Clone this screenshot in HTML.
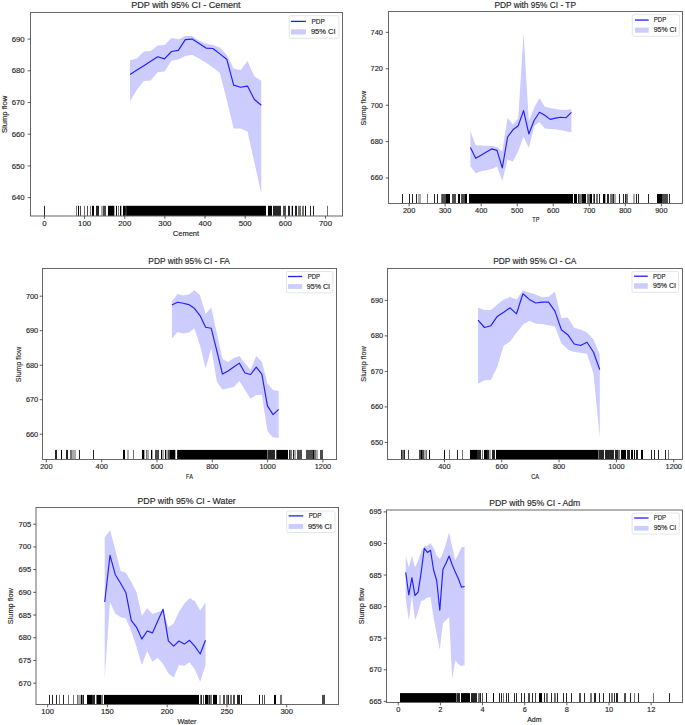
<!DOCTYPE html><html><head><meta charset="utf-8"><style>html,body{margin:0;padding:0;background:#fff;}svg{display:block;}text{font-family:"Liberation Sans",sans-serif;fill:#262626;stroke:#262626;stroke-width:0.15px;}</style></head><body>
<svg width="685" height="725" viewBox="0 0 685 725">
<rect width="685" height="725" fill="#fff"/>
<polygon points="130,60.3 136.91,58.6 143.82,51.5 150.73,50.9 157.64,45.5 164.55,45.1 171.46,38 178.37,39.2 185.28,36 192.19,36.1 199.11,40.7 206.02,43.4 212.93,44.9 219.84,47.5 226.75,55.1 233.66,68.6 240.57,70.2 247.48,61 254.39,76.6 261.3,80.8 261.3,193.3 254.39,162.4 247.48,131.5 240.57,128.6 233.66,128.6 226.75,100 219.84,73 212.93,67.4 206.02,62.7 199.11,58.6 192.19,54.8 185.28,55.9 178.37,59.6 171.46,60.7 164.55,71.4 157.64,72.3 150.73,80.6 143.82,81 136.91,89.8 130,101.2" fill="#ccccff"/>
<polyline points="130,74.6 136.91,70.1 143.82,65.7 150.73,61.3 157.64,56.8 164.55,58.9 171.46,51.5 178.37,50.4 185.28,39.6 192.19,39.1 199.11,43.4 206.02,48.1 212.93,48.5 219.84,53.9 226.75,59.2 233.66,85.1 240.57,87.3 247.48,86.1 254.39,99.5 261.3,105.2" fill="none" stroke="#1f1fff" stroke-width="1.15" stroke-linejoin="round"/>
<rect x="44" y="205.8" width="1" height="10.2" fill="#000" fill-opacity="0.85"/>
<rect x="76" y="205.8" width="1" height="10.2" fill="#000" fill-opacity="0.55"/>
<rect x="78" y="205.8" width="1" height="10.2" fill="#000" fill-opacity="1.0"/>
<rect x="80" y="205.8" width="1" height="10.2" fill="#000" fill-opacity="0.7"/>
<rect x="84" y="205.8" width="1" height="10.2" fill="#000" fill-opacity="0.55"/>
<rect x="87" y="205.8" width="1" height="10.2" fill="#000" fill-opacity="0.7"/>
<rect x="90" y="205.8" width="1" height="10.2" fill="#000" fill-opacity="0.55"/>
<rect x="92" y="205.8" width="2" height="10.2" fill="#000" fill-opacity="1.0"/>
<rect x="96" y="205.8" width="3" height="10.2" fill="#000" fill-opacity="0.85"/>
<rect x="101" y="205.8" width="2" height="10.2" fill="#000" fill-opacity="0.33"/>
<rect x="103" y="205.8" width="3" height="10.2" fill="#000" fill-opacity="0.7"/>
<rect x="108" y="205.8" width="6" height="10.2" fill="#000" fill-opacity="1.0"/>
<rect x="114" y="205.8" width="1" height="10.2" fill="#000" fill-opacity="0.33"/>
<rect x="116" y="205.8" width="1" height="10.2" fill="#000" fill-opacity="1.0"/>
<rect x="118" y="205.8" width="1" height="10.2" fill="#000" fill-opacity="0.55"/>
<rect x="120" y="205.8" width="1" height="10.2" fill="#000" fill-opacity="1.0"/>
<rect x="121" y="205.8" width="1" height="10.2" fill="#000" fill-opacity="0.33"/>
<rect x="123" y="205.8" width="2" height="10.2" fill="#000" fill-opacity="1.0"/>
<rect x="125" y="205.8" width="2" height="10.2" fill="#000" fill-opacity="0.85"/>
<rect x="127" y="205.8" width="139" height="10.2" fill="#000" fill-opacity="1.0"/>
<rect x="268" y="205.8" width="4" height="10.2" fill="#000" fill-opacity="1.0"/>
<rect x="273" y="205.8" width="8" height="10.2" fill="#000" fill-opacity="0.85"/>
<rect x="283" y="205.8" width="3" height="10.2" fill="#000" fill-opacity="0.7"/>
<rect x="288" y="205.8" width="2" height="10.2" fill="#000" fill-opacity="0.85"/>
<rect x="291" y="205.8" width="1" height="10.2" fill="#000" fill-opacity="0.33"/>
<rect x="292" y="205.8" width="1" height="10.2" fill="#000" fill-opacity="1.0"/>
<rect x="295" y="205.8" width="2" height="10.2" fill="#000" fill-opacity="0.85"/>
<rect x="298" y="205.8" width="3" height="10.2" fill="#000" fill-opacity="0.55"/>
<rect x="302" y="205.8" width="2" height="10.2" fill="#000" fill-opacity="0.55"/>
<rect x="305" y="205.8" width="1" height="10.2" fill="#000" fill-opacity="1.0"/>
<rect x="310" y="205.8" width="1" height="10.2" fill="#000" fill-opacity="0.85"/>
<rect x="313" y="205.8" width="1" height="10.2" fill="#000" fill-opacity="0.85"/>
<rect x="327" y="205.8" width="1" height="10.2" fill="#000" fill-opacity="0.55"/>
<rect x="30.5" y="12.5" width="312" height="203.5" fill="none" stroke="#666" stroke-width="1.0"/>
<line x1="27.7" y1="197.6" x2="30.5" y2="197.6" stroke="#333" stroke-width="0.8"/>
<text transform="translate(24.7,200.21) scale(1.05,1)" font-size="7.46" text-anchor="end">640</text>
<line x1="27.7" y1="165.9" x2="30.5" y2="165.9" stroke="#333" stroke-width="0.8"/>
<text transform="translate(24.7,168.51) scale(1.05,1)" font-size="7.46" text-anchor="end">650</text>
<line x1="27.7" y1="134.2" x2="30.5" y2="134.2" stroke="#333" stroke-width="0.8"/>
<text transform="translate(24.7,136.81) scale(1.05,1)" font-size="7.46" text-anchor="end">660</text>
<line x1="27.7" y1="102.5" x2="30.5" y2="102.5" stroke="#333" stroke-width="0.8"/>
<text transform="translate(24.7,105.11) scale(1.05,1)" font-size="7.46" text-anchor="end">670</text>
<line x1="27.7" y1="70.8" x2="30.5" y2="70.8" stroke="#333" stroke-width="0.8"/>
<text transform="translate(24.7,73.41) scale(1.05,1)" font-size="7.46" text-anchor="end">680</text>
<line x1="27.7" y1="39.1" x2="30.5" y2="39.1" stroke="#333" stroke-width="0.8"/>
<text transform="translate(24.7,41.71) scale(1.05,1)" font-size="7.46" text-anchor="end">690</text>
<line x1="44.4" y1="216" x2="44.4" y2="218.8" stroke="#333" stroke-width="0.8"/>
<text transform="translate(44.4,226) scale(1.05,1)" font-size="7.46" text-anchor="middle">0</text>
<line x1="84.56" y1="216" x2="84.56" y2="218.8" stroke="#333" stroke-width="0.8"/>
<text transform="translate(84.56,226) scale(1.05,1)" font-size="7.46" text-anchor="middle">100</text>
<line x1="124.72" y1="216" x2="124.72" y2="218.8" stroke="#333" stroke-width="0.8"/>
<text transform="translate(124.72,226) scale(1.05,1)" font-size="7.46" text-anchor="middle">200</text>
<line x1="164.88" y1="216" x2="164.88" y2="218.8" stroke="#333" stroke-width="0.8"/>
<text transform="translate(164.88,226) scale(1.05,1)" font-size="7.46" text-anchor="middle">300</text>
<line x1="205.04" y1="216" x2="205.04" y2="218.8" stroke="#333" stroke-width="0.8"/>
<text transform="translate(205.04,226) scale(1.05,1)" font-size="7.46" text-anchor="middle">400</text>
<line x1="245.2" y1="216" x2="245.2" y2="218.8" stroke="#333" stroke-width="0.8"/>
<text transform="translate(245.2,226) scale(1.05,1)" font-size="7.46" text-anchor="middle">500</text>
<line x1="285.36" y1="216" x2="285.36" y2="218.8" stroke="#333" stroke-width="0.8"/>
<text transform="translate(285.36,226) scale(1.05,1)" font-size="7.46" text-anchor="middle">600</text>
<line x1="325.52" y1="216" x2="325.52" y2="218.8" stroke="#333" stroke-width="0.8"/>
<text transform="translate(325.52,226) scale(1.05,1)" font-size="7.46" text-anchor="middle">700</text>
<text x="185.9" y="7.8" font-size="8.9" text-anchor="middle" textLength="109.4" lengthAdjust="spacingAndGlyphs">PDP with 95% CI - Cement</text>
<text x="186" y="235.8" font-size="7.3" text-anchor="middle" textLength="26.3" lengthAdjust="spacingAndGlyphs">Cement</text>
<text transform="translate(6.9,114.4) rotate(-90)" font-size="7.3" text-anchor="middle" textLength="37.3" lengthAdjust="spacingAndGlyphs">Slump flow</text>
<rect x="289.2" y="15.7" width="49.6" height="22.6" rx="1.6" fill="#fff" fill-opacity="0.85" stroke="#dadada" stroke-width="0.7"/>
<line x1="290.9" y1="21.4" x2="305.9" y2="21.4" stroke="#1f1fff" stroke-width="1.3"/>
<rect x="290.9" y="29.3" width="15" height="5.2" fill="#ccccff"/>
<text x="311.6" y="24.01" font-size="7.3" text-anchor="start" textLength="13.2" lengthAdjust="spacingAndGlyphs">PDP</text>
<text x="310.9" y="34.01" font-size="7.3" text-anchor="start" textLength="24.6" lengthAdjust="spacingAndGlyphs">95% CI</text>
<polygon points="470.4,131.2 475.72,145.3 481.03,145.6 486.35,145.8 491.66,146 496.98,147.1 502.29,151.3 507.61,117.7 512.93,124.6 518.24,118.2 523.56,33.6 528.87,121.5 534.19,107.5 539.51,97.9 544.82,106.8 550.14,108.1 555.45,109.1 560.77,109.8 566.08,110 571.4,109.1 571.4,132.3 566.08,131.3 560.77,130.2 555.45,129.3 550.14,129 544.82,128.5 539.51,121.9 534.19,126 528.87,147.9 523.56,136.5 518.24,151.3 512.93,161.5 507.61,159.6 502.29,181.1 496.98,166.5 491.66,169 486.35,170.3 481.03,171.2 475.72,173.2 470.4,166.2" fill="#ccccff"/>
<polyline points="470.4,147.5 475.72,158.3 481.03,155.2 486.35,151.9 491.66,148.9 496.98,150.4 502.29,167.9 507.61,137 512.93,129.8 518.24,125.7 523.56,110.6 528.87,134 534.19,120.2 539.51,112.3 544.82,115.3 550.14,119.4 555.45,118.1 560.77,117.3 566.08,117.7 571.4,112.3" fill="none" stroke="#1f1fff" stroke-width="1.15" stroke-linejoin="round"/>
<rect x="402" y="194" width="1" height="9.5" fill="#000" fill-opacity="0.85"/>
<rect x="409" y="194" width="1" height="9.5" fill="#000" fill-opacity="0.85"/>
<rect x="412" y="194" width="1" height="9.5" fill="#000" fill-opacity="0.85"/>
<rect x="416" y="194" width="1" height="9.5" fill="#000" fill-opacity="0.85"/>
<rect x="418" y="194" width="3" height="9.5" fill="#000" fill-opacity="0.33"/>
<rect x="427" y="194" width="1" height="9.5" fill="#000" fill-opacity="0.55"/>
<rect x="434" y="194" width="1" height="9.5" fill="#000" fill-opacity="0.85"/>
<rect x="437" y="194" width="1" height="9.5" fill="#000" fill-opacity="0.85"/>
<rect x="441" y="194" width="1" height="9.5" fill="#000" fill-opacity="0.55"/>
<rect x="442" y="194" width="4" height="9.5" fill="#000" fill-opacity="0.7"/>
<rect x="446" y="194" width="4" height="9.5" fill="#000" fill-opacity="1.0"/>
<rect x="452" y="194" width="4" height="9.5" fill="#000" fill-opacity="0.7"/>
<rect x="458" y="194" width="2" height="9.5" fill="#000" fill-opacity="1.0"/>
<rect x="461" y="194" width="4" height="9.5" fill="#000" fill-opacity="0.7"/>
<rect x="465" y="194" width="2" height="9.5" fill="#000" fill-opacity="1.0"/>
<rect x="469" y="194" width="104" height="9.5" fill="#000" fill-opacity="1.0"/>
<rect x="574" y="194" width="3" height="9.5" fill="#000" fill-opacity="1.0"/>
<rect x="578" y="194" width="1" height="9.5" fill="#000" fill-opacity="0.85"/>
<rect x="579" y="194" width="3" height="9.5" fill="#000" fill-opacity="0.55"/>
<rect x="582" y="194" width="4" height="9.5" fill="#000" fill-opacity="1.0"/>
<rect x="587" y="194" width="3" height="9.5" fill="#000" fill-opacity="0.55"/>
<rect x="590" y="194" width="2" height="9.5" fill="#000" fill-opacity="1.0"/>
<rect x="593" y="194" width="1" height="9.5" fill="#000" fill-opacity="0.55"/>
<rect x="594" y="194" width="1" height="9.5" fill="#000" fill-opacity="0.85"/>
<rect x="596" y="194" width="2" height="9.5" fill="#000" fill-opacity="0.55"/>
<rect x="599" y="194" width="1" height="9.5" fill="#000" fill-opacity="0.85"/>
<rect x="603" y="194" width="2" height="9.5" fill="#000" fill-opacity="1.0"/>
<rect x="605" y="194" width="1" height="9.5" fill="#000" fill-opacity="0.33"/>
<rect x="607" y="194" width="2" height="9.5" fill="#000" fill-opacity="0.85"/>
<rect x="610" y="194" width="3" height="9.5" fill="#000" fill-opacity="0.55"/>
<rect x="613" y="194" width="1" height="9.5" fill="#000" fill-opacity="0.85"/>
<rect x="614" y="194" width="2" height="9.5" fill="#000" fill-opacity="0.33"/>
<rect x="619" y="194" width="1" height="9.5" fill="#000" fill-opacity="0.85"/>
<rect x="623" y="194" width="1" height="9.5" fill="#000" fill-opacity="0.85"/>
<rect x="625" y="194" width="1" height="9.5" fill="#000" fill-opacity="0.85"/>
<rect x="626" y="194" width="2" height="9.5" fill="#000" fill-opacity="0.55"/>
<rect x="633" y="194" width="2" height="9.5" fill="#000" fill-opacity="0.33"/>
<rect x="636" y="194" width="1" height="9.5" fill="#000" fill-opacity="0.85"/>
<rect x="638" y="194" width="1" height="9.5" fill="#000" fill-opacity="0.85"/>
<rect x="648" y="194" width="1" height="9.5" fill="#000" fill-opacity="0.85"/>
<rect x="657" y="194" width="5" height="9.5" fill="#000" fill-opacity="1.0"/>
<rect x="662" y="194" width="6" height="9.5" fill="#000" fill-opacity="0.7"/>
<rect x="669" y="194" width="1" height="9.5" fill="#000" fill-opacity="0.85"/>
<rect x="388.5" y="11.5" width="294" height="192" fill="none" stroke="#666" stroke-width="1.0"/>
<line x1="385.7" y1="178.03" x2="388.5" y2="178.03" stroke="#333" stroke-width="0.8"/>
<text transform="translate(382.8,180.48) scale(1.05,1)" font-size="7.01" text-anchor="end">660</text>
<line x1="385.7" y1="141.61" x2="388.5" y2="141.61" stroke="#333" stroke-width="0.8"/>
<text transform="translate(382.8,144.06) scale(1.05,1)" font-size="7.01" text-anchor="end">680</text>
<line x1="385.7" y1="105.19" x2="388.5" y2="105.19" stroke="#333" stroke-width="0.8"/>
<text transform="translate(382.8,107.64) scale(1.05,1)" font-size="7.01" text-anchor="end">700</text>
<line x1="385.7" y1="68.77" x2="388.5" y2="68.77" stroke="#333" stroke-width="0.8"/>
<text transform="translate(382.8,71.22) scale(1.05,1)" font-size="7.01" text-anchor="end">720</text>
<line x1="385.7" y1="32.35" x2="388.5" y2="32.35" stroke="#333" stroke-width="0.8"/>
<text transform="translate(382.8,34.8) scale(1.05,1)" font-size="7.01" text-anchor="end">740</text>
<line x1="409.1" y1="203.5" x2="409.1" y2="206.3" stroke="#333" stroke-width="0.8"/>
<text transform="translate(409.1,213.3) scale(1.05,1)" font-size="7.01" text-anchor="middle">200</text>
<line x1="445.14" y1="203.5" x2="445.14" y2="206.3" stroke="#333" stroke-width="0.8"/>
<text transform="translate(445.14,213.3) scale(1.05,1)" font-size="7.01" text-anchor="middle">300</text>
<line x1="481.17" y1="203.5" x2="481.17" y2="206.3" stroke="#333" stroke-width="0.8"/>
<text transform="translate(481.17,213.3) scale(1.05,1)" font-size="7.01" text-anchor="middle">400</text>
<line x1="517.21" y1="203.5" x2="517.21" y2="206.3" stroke="#333" stroke-width="0.8"/>
<text transform="translate(517.21,213.3) scale(1.05,1)" font-size="7.01" text-anchor="middle">500</text>
<line x1="553.24" y1="203.5" x2="553.24" y2="206.3" stroke="#333" stroke-width="0.8"/>
<text transform="translate(553.24,213.3) scale(1.05,1)" font-size="7.01" text-anchor="middle">600</text>
<line x1="589.28" y1="203.5" x2="589.28" y2="206.3" stroke="#333" stroke-width="0.8"/>
<text transform="translate(589.28,213.3) scale(1.05,1)" font-size="7.01" text-anchor="middle">700</text>
<line x1="625.32" y1="203.5" x2="625.32" y2="206.3" stroke="#333" stroke-width="0.8"/>
<text transform="translate(625.32,213.3) scale(1.05,1)" font-size="7.01" text-anchor="middle">800</text>
<line x1="661.35" y1="203.5" x2="661.35" y2="206.3" stroke="#333" stroke-width="0.8"/>
<text transform="translate(661.35,213.3) scale(1.05,1)" font-size="7.01" text-anchor="middle">900</text>
<text x="535.2" y="7.9" font-size="8.37" text-anchor="middle" textLength="81.6" lengthAdjust="spacingAndGlyphs">PDP with 95% CI - TP</text>
<text x="535.8" y="222" font-size="6.86" text-anchor="middle" textLength="7.1" lengthAdjust="spacingAndGlyphs">TP</text>
<text transform="translate(366.4,108.2) rotate(-90)" font-size="6.86" text-anchor="middle" textLength="34.7" lengthAdjust="spacingAndGlyphs">Slump flow</text>
<rect x="632.3" y="14.6" width="47.3" height="21.7" rx="1.6" fill="#fff" fill-opacity="0.85" stroke="#dadada" stroke-width="0.7"/>
<line x1="634.9" y1="20.05" x2="648.7" y2="20.05" stroke="#1f1fff" stroke-width="1.3"/>
<rect x="634.9" y="27.6" width="13.8" height="5.1" fill="#ccccff"/>
<text x="653.7" y="22.36" font-size="6.86" text-anchor="start" textLength="12.5" lengthAdjust="spacingAndGlyphs">PDP</text>
<text x="653.7" y="32.36" font-size="6.86" text-anchor="start" textLength="22.8" lengthAdjust="spacingAndGlyphs">95% CI</text>
<polygon points="171.9,301.4 177.52,294.1 183.14,295.4 188.76,294.5 194.38,290.3 200.01,295.2 205.63,313.8 211.25,307.6 216.87,333.5 222.49,359 228.11,362 233.73,358.1 239.35,356 244.97,363.2 250.59,369.7 256.22,355.9 261.84,361.7 267.46,383.5 273.08,390 278.7,391 278.7,437.8 273.08,437.4 267.46,431.3 261.84,394.8 256.22,395.1 250.59,398.7 244.97,390 239.35,381 233.73,386.9 228.11,388.2 222.49,389.5 216.87,381.8 211.25,348.3 205.63,368.4 200.01,345.5 194.38,328.3 188.76,332.4 183.14,333.5 177.52,332.1 171.9,338.6" fill="#ccccff"/>
<polyline points="171.9,305.1 177.52,302.3 183.14,303.2 188.76,304.6 194.38,308.3 200.01,315.6 205.63,327.2 211.25,328.3 216.87,351 222.49,374.1 228.11,371 233.73,367 239.35,363.1 244.97,373 250.59,374.5 256.22,367.2 261.84,374.1 267.46,405.9 273.08,414.6 278.7,409.3" fill="none" stroke="#1f1fff" stroke-width="1.15" stroke-linejoin="round"/>
<rect x="55" y="449.9" width="2" height="9.6" fill="#000" fill-opacity="0.85"/>
<rect x="61" y="449.9" width="1" height="9.6" fill="#000" fill-opacity="1.0"/>
<rect x="66" y="449.9" width="2" height="9.6" fill="#000" fill-opacity="0.85"/>
<rect x="70" y="449.9" width="2" height="9.6" fill="#000" fill-opacity="0.55"/>
<rect x="72" y="449.9" width="4" height="9.6" fill="#000" fill-opacity="0.33"/>
<rect x="79" y="449.9" width="1" height="9.6" fill="#000" fill-opacity="0.85"/>
<rect x="93" y="449.9" width="1" height="9.6" fill="#000" fill-opacity="0.85"/>
<rect x="123" y="449.9" width="2" height="9.6" fill="#000" fill-opacity="1.0"/>
<rect x="127" y="449.9" width="2" height="9.6" fill="#000" fill-opacity="0.33"/>
<rect x="133" y="449.9" width="1" height="9.6" fill="#000" fill-opacity="0.55"/>
<rect x="142" y="449.9" width="2" height="9.6" fill="#000" fill-opacity="1.0"/>
<rect x="144" y="449.9" width="1" height="9.6" fill="#000" fill-opacity="0.33"/>
<rect x="146" y="449.9" width="1" height="9.6" fill="#000" fill-opacity="0.55"/>
<rect x="147" y="449.9" width="2" height="9.6" fill="#000" fill-opacity="0.33"/>
<rect x="151" y="449.9" width="1" height="9.6" fill="#000" fill-opacity="1.0"/>
<rect x="152" y="449.9" width="1" height="9.6" fill="#000" fill-opacity="0.33"/>
<rect x="155" y="449.9" width="4" height="9.6" fill="#000" fill-opacity="0.7"/>
<rect x="161" y="449.9" width="1" height="9.6" fill="#000" fill-opacity="1.0"/>
<rect x="162" y="449.9" width="2" height="9.6" fill="#000" fill-opacity="0.33"/>
<rect x="165" y="449.9" width="1" height="9.6" fill="#000" fill-opacity="1.0"/>
<rect x="166" y="449.9" width="2" height="9.6" fill="#000" fill-opacity="0.33"/>
<rect x="168" y="449.9" width="2" height="9.6" fill="#000" fill-opacity="0.7"/>
<rect x="170" y="449.9" width="5" height="9.6" fill="#000" fill-opacity="1.0"/>
<rect x="175" y="449.9" width="1" height="9.6" fill="#000" fill-opacity="0.33"/>
<rect x="177" y="449.9" width="1" height="9.6" fill="#000" fill-opacity="0.85"/>
<rect x="178" y="449.9" width="89" height="9.6" fill="#000" fill-opacity="1.0"/>
<rect x="267" y="449.9" width="1" height="9.6" fill="#000" fill-opacity="0.55"/>
<rect x="268" y="449.9" width="7" height="9.6" fill="#000" fill-opacity="0.85"/>
<rect x="276" y="449.9" width="1" height="9.6" fill="#000" fill-opacity="0.7"/>
<rect x="277" y="449.9" width="11" height="9.6" fill="#000" fill-opacity="1.0"/>
<rect x="289" y="449.9" width="1" height="9.6" fill="#000" fill-opacity="0.85"/>
<rect x="290" y="449.9" width="2" height="9.6" fill="#000" fill-opacity="0.55"/>
<rect x="293" y="449.9" width="1" height="9.6" fill="#000" fill-opacity="0.85"/>
<rect x="294" y="449.9" width="2" height="9.6" fill="#000" fill-opacity="0.33"/>
<rect x="297" y="449.9" width="5" height="9.6" fill="#000" fill-opacity="0.7"/>
<rect x="306" y="449.9" width="7" height="9.6" fill="#000" fill-opacity="0.7"/>
<rect x="313" y="449.9" width="1" height="9.6" fill="#000" fill-opacity="1.0"/>
<rect x="314" y="449.9" width="2" height="9.6" fill="#000" fill-opacity="0.55"/>
<rect x="316" y="449.9" width="2" height="9.6" fill="#000" fill-opacity="0.33"/>
<rect x="320" y="449.9" width="3" height="9.6" fill="#000" fill-opacity="0.7"/>
<rect x="42.5" y="268.5" width="294" height="191" fill="none" stroke="#666" stroke-width="1.0"/>
<line x1="39.7" y1="434.2" x2="42.5" y2="434.2" stroke="#333" stroke-width="0.8"/>
<text transform="translate(38.2,436.66) scale(1.05,1)" font-size="7.03" text-anchor="end">660</text>
<line x1="39.7" y1="399.7" x2="42.5" y2="399.7" stroke="#333" stroke-width="0.8"/>
<text transform="translate(38.2,402.16) scale(1.05,1)" font-size="7.03" text-anchor="end">670</text>
<line x1="39.7" y1="365.2" x2="42.5" y2="365.2" stroke="#333" stroke-width="0.8"/>
<text transform="translate(38.2,367.66) scale(1.05,1)" font-size="7.03" text-anchor="end">680</text>
<line x1="39.7" y1="330.7" x2="42.5" y2="330.7" stroke="#333" stroke-width="0.8"/>
<text transform="translate(38.2,333.16) scale(1.05,1)" font-size="7.03" text-anchor="end">690</text>
<line x1="39.7" y1="296.2" x2="42.5" y2="296.2" stroke="#333" stroke-width="0.8"/>
<text transform="translate(38.2,298.66) scale(1.05,1)" font-size="7.03" text-anchor="end">700</text>
<line x1="46.4" y1="459.5" x2="46.4" y2="462.3" stroke="#333" stroke-width="0.8"/>
<text transform="translate(46.4,469.3) scale(1.05,1)" font-size="7.03" text-anchor="middle">200</text>
<line x1="101.7" y1="459.5" x2="101.7" y2="462.3" stroke="#333" stroke-width="0.8"/>
<text transform="translate(101.7,469.3) scale(1.05,1)" font-size="7.03" text-anchor="middle">400</text>
<line x1="157" y1="459.5" x2="157" y2="462.3" stroke="#333" stroke-width="0.8"/>
<text transform="translate(157,469.3) scale(1.05,1)" font-size="7.03" text-anchor="middle">600</text>
<line x1="212.3" y1="459.5" x2="212.3" y2="462.3" stroke="#333" stroke-width="0.8"/>
<text transform="translate(212.3,469.3) scale(1.05,1)" font-size="7.03" text-anchor="middle">800</text>
<line x1="267.6" y1="459.5" x2="267.6" y2="462.3" stroke="#333" stroke-width="0.8"/>
<text transform="translate(267.6,469.3) scale(1.05,1)" font-size="7.03" text-anchor="middle">1000</text>
<line x1="322.9" y1="459.5" x2="322.9" y2="462.3" stroke="#333" stroke-width="0.8"/>
<text transform="translate(322.9,469.3) scale(1.05,1)" font-size="7.03" text-anchor="middle">1200</text>
<text x="189.1" y="264.4" font-size="8.38" text-anchor="middle" textLength="81.5" lengthAdjust="spacingAndGlyphs">PDP with 95% CI - FA</text>
<text x="189.5" y="479" font-size="6.88" text-anchor="middle" textLength="6.8" lengthAdjust="spacingAndGlyphs">FA</text>
<text transform="translate(21.4,364.5) rotate(-90)" font-size="6.88" text-anchor="middle" textLength="35.3" lengthAdjust="spacingAndGlyphs">Slump flow</text>
<rect x="286.4" y="271.5" width="46.5" height="21.3" rx="1.6" fill="#fff" fill-opacity="0.85" stroke="#dadada" stroke-width="0.7"/>
<line x1="288" y1="276.5" x2="302.2" y2="276.5" stroke="#1f1fff" stroke-width="1.3"/>
<rect x="288" y="284.1" width="14.2" height="4.8" fill="#ccccff"/>
<text x="307.7" y="278.87" font-size="6.88" text-anchor="start" textLength="12.4" lengthAdjust="spacingAndGlyphs">PDP</text>
<text x="306.8" y="288.87" font-size="6.88" text-anchor="start" textLength="23.2" lengthAdjust="spacingAndGlyphs">95% CI</text>
<polygon points="478.05,307.8 484.46,310 490.87,310 497.27,304.4 503.68,299.4 510.09,297.1 516.5,299.4 522.91,290.3 529.31,292.6 535.72,294.4 542.13,297.2 548.54,296.8 554.94,291.8 561.35,318.3 567.76,317.5 574.17,327.8 580.58,329.4 586.98,332.5 593.39,339.2 599.8,354.5 599.8,437.8 593.39,373.3 586.98,353.8 580.58,352.7 574.17,352 567.76,349.5 561.35,343.3 554.94,326.6 548.54,325.3 542.13,324 535.72,323.7 529.31,320.7 522.91,324.8 516.5,332.8 510.09,341.5 503.68,345.7 497.27,367 490.87,379.9 484.46,380.3 478.05,383.7" fill="#ccccff"/>
<polyline points="478.05,320.2 484.46,327.5 490.87,325.7 497.27,316.4 503.68,312.3 510.09,307.8 516.5,313.8 522.91,293.8 529.31,299.4 535.72,303 542.13,302.1 548.54,302.1 554.94,311.1 561.35,329.7 567.76,334.7 574.17,344 580.58,345.5 586.98,342.2 593.39,352 599.8,369.8" fill="none" stroke="#1f1fff" stroke-width="1.15" stroke-linejoin="round"/>
<rect x="401" y="449.9" width="1" height="9.6" fill="#000" fill-opacity="0.85"/>
<rect x="402" y="449.9" width="2" height="9.6" fill="#000" fill-opacity="0.55"/>
<rect x="404" y="449.9" width="1" height="9.6" fill="#000" fill-opacity="0.85"/>
<rect x="408" y="449.9" width="1" height="9.6" fill="#000" fill-opacity="0.7"/>
<rect x="419" y="449.9" width="2" height="9.6" fill="#000" fill-opacity="0.7"/>
<rect x="421" y="449.9" width="1" height="9.6" fill="#000" fill-opacity="1.0"/>
<rect x="422" y="449.9" width="2" height="9.6" fill="#000" fill-opacity="0.7"/>
<rect x="424" y="449.9" width="2" height="9.6" fill="#000" fill-opacity="0.33"/>
<rect x="426" y="449.9" width="1" height="9.6" fill="#000" fill-opacity="0.55"/>
<rect x="429" y="449.9" width="1" height="9.6" fill="#000" fill-opacity="1.0"/>
<rect x="444" y="449.9" width="1" height="9.6" fill="#000" fill-opacity="1.0"/>
<rect x="449" y="449.9" width="1" height="9.6" fill="#000" fill-opacity="0.55"/>
<rect x="457" y="449.9" width="1" height="9.6" fill="#000" fill-opacity="0.85"/>
<rect x="462" y="449.9" width="1" height="9.6" fill="#000" fill-opacity="0.55"/>
<rect x="470" y="449.9" width="7" height="9.6" fill="#000" fill-opacity="1.0"/>
<rect x="477" y="449.9" width="4" height="9.6" fill="#000" fill-opacity="0.85"/>
<rect x="482" y="449.9" width="1" height="9.6" fill="#000" fill-opacity="0.55"/>
<rect x="484" y="449.9" width="3" height="9.6" fill="#000" fill-opacity="1.0"/>
<rect x="487" y="449.9" width="2" height="9.6" fill="#000" fill-opacity="0.85"/>
<rect x="489" y="449.9" width="2" height="9.6" fill="#000" fill-opacity="0.33"/>
<rect x="492" y="449.9" width="3" height="9.6" fill="#000" fill-opacity="0.85"/>
<rect x="496" y="449.9" width="102" height="9.6" fill="#000" fill-opacity="1.0"/>
<rect x="598" y="449.9" width="1" height="9.6" fill="#000" fill-opacity="0.55"/>
<rect x="599" y="449.9" width="5" height="9.6" fill="#000" fill-opacity="0.85"/>
<rect x="605" y="449.9" width="9" height="9.6" fill="#000" fill-opacity="0.85"/>
<rect x="615" y="449.9" width="3" height="9.6" fill="#000" fill-opacity="0.85"/>
<rect x="618" y="449.9" width="2" height="9.6" fill="#000" fill-opacity="0.55"/>
<rect x="621" y="449.9" width="5" height="9.6" fill="#000" fill-opacity="1.0"/>
<rect x="627" y="449.9" width="3" height="9.6" fill="#000" fill-opacity="0.85"/>
<rect x="631" y="449.9" width="2" height="9.6" fill="#000" fill-opacity="1.0"/>
<rect x="634" y="449.9" width="1" height="9.6" fill="#000" fill-opacity="1.0"/>
<rect x="636" y="449.9" width="2" height="9.6" fill="#000" fill-opacity="0.85"/>
<rect x="641" y="449.9" width="2" height="9.6" fill="#000" fill-opacity="1.0"/>
<rect x="651" y="449.9" width="1" height="9.6" fill="#000" fill-opacity="0.85"/>
<rect x="654" y="449.9" width="1" height="9.6" fill="#000" fill-opacity="0.85"/>
<rect x="658" y="449.9" width="1" height="9.6" fill="#000" fill-opacity="0.85"/>
<rect x="665" y="449.9" width="1" height="9.6" fill="#000" fill-opacity="0.85"/>
<rect x="668" y="449.9" width="1" height="9.6" fill="#000" fill-opacity="0.55"/>
<rect x="387.5" y="268.5" width="295" height="191" fill="none" stroke="#666" stroke-width="1.0"/>
<line x1="384.7" y1="442.4" x2="387.5" y2="442.4" stroke="#333" stroke-width="0.8"/>
<text transform="translate(383.1,444.86) scale(1.05,1)" font-size="7.03" text-anchor="end">650</text>
<line x1="384.7" y1="406.9" x2="387.5" y2="406.9" stroke="#333" stroke-width="0.8"/>
<text transform="translate(383.1,409.36) scale(1.05,1)" font-size="7.03" text-anchor="end">660</text>
<line x1="384.7" y1="371.4" x2="387.5" y2="371.4" stroke="#333" stroke-width="0.8"/>
<text transform="translate(383.1,373.86) scale(1.05,1)" font-size="7.03" text-anchor="end">670</text>
<line x1="384.7" y1="335.9" x2="387.5" y2="335.9" stroke="#333" stroke-width="0.8"/>
<text transform="translate(383.1,338.36) scale(1.05,1)" font-size="7.03" text-anchor="end">680</text>
<line x1="384.7" y1="300.4" x2="387.5" y2="300.4" stroke="#333" stroke-width="0.8"/>
<text transform="translate(383.1,302.86) scale(1.05,1)" font-size="7.03" text-anchor="end">690</text>
<line x1="444.4" y1="459.5" x2="444.4" y2="462.3" stroke="#333" stroke-width="0.8"/>
<text transform="translate(444.4,469.3) scale(1.05,1)" font-size="7.03" text-anchor="middle">400</text>
<line x1="501.74" y1="459.5" x2="501.74" y2="462.3" stroke="#333" stroke-width="0.8"/>
<text transform="translate(501.74,469.3) scale(1.05,1)" font-size="7.03" text-anchor="middle">600</text>
<line x1="559.08" y1="459.5" x2="559.08" y2="462.3" stroke="#333" stroke-width="0.8"/>
<text transform="translate(559.08,469.3) scale(1.05,1)" font-size="7.03" text-anchor="middle">800</text>
<line x1="616.42" y1="459.5" x2="616.42" y2="462.3" stroke="#333" stroke-width="0.8"/>
<text transform="translate(616.42,469.3) scale(1.05,1)" font-size="7.03" text-anchor="middle">1000</text>
<line x1="673.76" y1="459.5" x2="673.76" y2="462.3" stroke="#333" stroke-width="0.8"/>
<text transform="translate(673.76,469.3) scale(1.05,1)" font-size="7.03" text-anchor="middle">1200</text>
<text x="534.8" y="264" font-size="8.39" text-anchor="middle" textLength="83.3" lengthAdjust="spacingAndGlyphs">PDP with 95% CI - CA</text>
<text x="535.1" y="479" font-size="6.88" text-anchor="middle" textLength="7.8" lengthAdjust="spacingAndGlyphs">CA</text>
<text transform="translate(366.4,364) rotate(-90)" font-size="6.88" text-anchor="middle" textLength="35.3" lengthAdjust="spacingAndGlyphs">Slump flow</text>
<rect x="632" y="271.3" width="46.5" height="21.1" rx="1.6" fill="#fff" fill-opacity="0.85" stroke="#dadada" stroke-width="0.7"/>
<line x1="634.1" y1="276.2" x2="647.8" y2="276.2" stroke="#1f1fff" stroke-width="1.3"/>
<rect x="634.1" y="283.2" width="13.7" height="5.5" fill="#ccccff"/>
<text x="653.1" y="278.57" font-size="6.88" text-anchor="start" textLength="12.4" lengthAdjust="spacingAndGlyphs">PDP</text>
<text x="653" y="288.37" font-size="6.88" text-anchor="start" textLength="22.9" lengthAdjust="spacingAndGlyphs">95% CI</text>
<polygon points="104.7,537.4 110.01,530.2 115.31,549.8 120.62,570.9 125.92,572.8 131.23,582.1 136.53,592 141.84,616 147.14,608.1 152.45,614 157.75,611.9 163.06,610.5 168.36,627 173.67,623.5 178.97,611.7 184.28,603.7 189.58,598.1 194.89,601.2 200.19,610.5 205.5,602.4 205.5,665.6 200.19,681.7 194.89,669.6 189.58,662.2 184.28,666 178.97,665 173.67,677.5 168.36,673.2 163.06,663.9 157.75,657.7 152.45,661.7 147.14,650.9 141.84,665.1 136.53,647.1 131.23,631 125.92,618.6 120.62,617.3 115.31,613.6 110.01,602.2 104.7,677.5" fill="#ccccff"/>
<polyline points="104.7,602 110.01,555.4 115.31,574.7 120.62,583.3 125.92,592.7 131.23,620.4 136.53,627.3 141.84,639.1 147.14,631 152.45,632.9 157.75,621 163.06,609.2 168.36,640.9 173.67,646.1 178.97,641 184.28,644.1 189.58,640.3 194.89,646.3 200.19,654 205.5,640.3" fill="none" stroke="#1f1fff" stroke-width="1.15" stroke-linejoin="round"/>
<rect x="49" y="694.9" width="1" height="9.6" fill="#000" fill-opacity="0.85"/>
<rect x="52" y="694.9" width="1" height="9.6" fill="#000" fill-opacity="0.85"/>
<rect x="56" y="694.9" width="1" height="9.6" fill="#000" fill-opacity="0.85"/>
<rect x="59" y="694.9" width="1" height="9.6" fill="#000" fill-opacity="0.55"/>
<rect x="63" y="694.9" width="1" height="9.6" fill="#000" fill-opacity="0.85"/>
<rect x="68" y="694.9" width="1" height="9.6" fill="#000" fill-opacity="0.55"/>
<rect x="73" y="694.9" width="1" height="9.6" fill="#000" fill-opacity="0.55"/>
<rect x="77" y="694.9" width="1" height="9.6" fill="#000" fill-opacity="0.55"/>
<rect x="78" y="694.9" width="3" height="9.6" fill="#000" fill-opacity="0.33"/>
<rect x="81" y="694.9" width="1" height="9.6" fill="#000" fill-opacity="1.0"/>
<rect x="82" y="694.9" width="1" height="9.6" fill="#000" fill-opacity="0.55"/>
<rect x="83" y="694.9" width="1" height="9.6" fill="#000" fill-opacity="0.85"/>
<rect x="87" y="694.9" width="5" height="9.6" fill="#000" fill-opacity="1.0"/>
<rect x="92" y="694.9" width="3" height="9.6" fill="#000" fill-opacity="0.85"/>
<rect x="96" y="694.9" width="1" height="9.6" fill="#000" fill-opacity="0.55"/>
<rect x="97" y="694.9" width="4" height="9.6" fill="#000" fill-opacity="1.0"/>
<rect x="101" y="694.9" width="2" height="9.6" fill="#000" fill-opacity="0.55"/>
<rect x="104" y="694.9" width="95" height="9.6" fill="#000" fill-opacity="1.0"/>
<rect x="200" y="694.9" width="1" height="9.6" fill="#000" fill-opacity="0.55"/>
<rect x="201" y="694.9" width="1" height="9.6" fill="#000" fill-opacity="0.85"/>
<rect x="203" y="694.9" width="1" height="9.6" fill="#000" fill-opacity="0.7"/>
<rect x="205" y="694.9" width="3" height="9.6" fill="#000" fill-opacity="1.0"/>
<rect x="208" y="694.9" width="1" height="9.6" fill="#000" fill-opacity="0.55"/>
<rect x="209" y="694.9" width="1" height="9.6" fill="#000" fill-opacity="0.85"/>
<rect x="210" y="694.9" width="2" height="9.6" fill="#000" fill-opacity="0.55"/>
<rect x="213" y="694.9" width="4" height="9.6" fill="#000" fill-opacity="1.0"/>
<rect x="219" y="694.9" width="2" height="9.6" fill="#000" fill-opacity="0.33"/>
<rect x="223" y="694.9" width="2" height="9.6" fill="#000" fill-opacity="0.7"/>
<rect x="226" y="694.9" width="2" height="9.6" fill="#000" fill-opacity="0.55"/>
<rect x="228" y="694.9" width="1" height="9.6" fill="#000" fill-opacity="0.85"/>
<rect x="230" y="694.9" width="2" height="9.6" fill="#000" fill-opacity="0.55"/>
<rect x="233" y="694.9" width="2" height="9.6" fill="#000" fill-opacity="0.7"/>
<rect x="237" y="694.9" width="3" height="9.6" fill="#000" fill-opacity="0.85"/>
<rect x="241" y="694.9" width="1" height="9.6" fill="#000" fill-opacity="1.0"/>
<rect x="259" y="694.9" width="1" height="9.6" fill="#000" fill-opacity="1.0"/>
<rect x="262" y="694.9" width="1" height="9.6" fill="#000" fill-opacity="0.7"/>
<rect x="264" y="694.9" width="1" height="9.6" fill="#000" fill-opacity="0.7"/>
<rect x="274" y="694.9" width="2" height="9.6" fill="#000" fill-opacity="1.0"/>
<rect x="280" y="694.9" width="2" height="9.6" fill="#000" fill-opacity="0.55"/>
<rect x="322" y="694.9" width="3" height="9.6" fill="#000" fill-opacity="0.7"/>
<rect x="36" y="507.5" width="302.5" height="197" fill="none" stroke="#666" stroke-width="1.0"/>
<line x1="33.2" y1="683.15" x2="36" y2="683.15" stroke="#333" stroke-width="0.8"/>
<text transform="translate(31.1,685.68) scale(1.05,1)" font-size="7.24" text-anchor="end">670</text>
<line x1="33.2" y1="660.44" x2="36" y2="660.44" stroke="#333" stroke-width="0.8"/>
<text transform="translate(31.1,662.97) scale(1.05,1)" font-size="7.24" text-anchor="end">675</text>
<line x1="33.2" y1="637.74" x2="36" y2="637.74" stroke="#333" stroke-width="0.8"/>
<text transform="translate(31.1,640.27) scale(1.05,1)" font-size="7.24" text-anchor="end">680</text>
<line x1="33.2" y1="615.03" x2="36" y2="615.03" stroke="#333" stroke-width="0.8"/>
<text transform="translate(31.1,617.56) scale(1.05,1)" font-size="7.24" text-anchor="end">685</text>
<line x1="33.2" y1="592.32" x2="36" y2="592.32" stroke="#333" stroke-width="0.8"/>
<text transform="translate(31.1,594.85) scale(1.05,1)" font-size="7.24" text-anchor="end">690</text>
<line x1="33.2" y1="569.61" x2="36" y2="569.61" stroke="#333" stroke-width="0.8"/>
<text transform="translate(31.1,572.15) scale(1.05,1)" font-size="7.24" text-anchor="end">695</text>
<line x1="33.2" y1="546.91" x2="36" y2="546.91" stroke="#333" stroke-width="0.8"/>
<text transform="translate(31.1,549.44) scale(1.05,1)" font-size="7.24" text-anchor="end">700</text>
<line x1="33.2" y1="524.2" x2="36" y2="524.2" stroke="#333" stroke-width="0.8"/>
<text transform="translate(31.1,526.73) scale(1.05,1)" font-size="7.24" text-anchor="end">705</text>
<line x1="47.66" y1="704.5" x2="47.66" y2="707.3" stroke="#333" stroke-width="0.8"/>
<text transform="translate(47.66,714.1) scale(1.05,1)" font-size="7.24" text-anchor="middle">100</text>
<line x1="107.42" y1="704.5" x2="107.42" y2="707.3" stroke="#333" stroke-width="0.8"/>
<text transform="translate(107.42,714.1) scale(1.05,1)" font-size="7.24" text-anchor="middle">150</text>
<line x1="167.18" y1="704.5" x2="167.18" y2="707.3" stroke="#333" stroke-width="0.8"/>
<text transform="translate(167.18,714.1) scale(1.05,1)" font-size="7.24" text-anchor="middle">200</text>
<line x1="226.94" y1="704.5" x2="226.94" y2="707.3" stroke="#333" stroke-width="0.8"/>
<text transform="translate(226.94,714.1) scale(1.05,1)" font-size="7.24" text-anchor="middle">250</text>
<line x1="286.7" y1="704.5" x2="286.7" y2="707.3" stroke="#333" stroke-width="0.8"/>
<text transform="translate(286.7,714.1) scale(1.05,1)" font-size="7.24" text-anchor="middle">300</text>
<text x="186.6" y="503.7" font-size="8.63" text-anchor="middle" textLength="98.3" lengthAdjust="spacingAndGlyphs">PDP with 95% CI - Water</text>
<text x="187" y="723.7" font-size="7.08" text-anchor="middle" textLength="18.9" lengthAdjust="spacingAndGlyphs">Water</text>
<text transform="translate(12.9,606.2) rotate(-90)" font-size="7.08" text-anchor="middle" textLength="36" lengthAdjust="spacingAndGlyphs">Slump flow</text>
<rect x="286.7" y="511" width="48.3" height="21.5" rx="1.6" fill="#fff" fill-opacity="0.85" stroke="#dadada" stroke-width="0.7"/>
<line x1="288.6" y1="515.9" x2="303.2" y2="515.9" stroke="#1f1fff" stroke-width="1.3"/>
<rect x="288.6" y="524" width="14.6" height="4.9" fill="#ccccff"/>
<text x="308.7" y="518.44" font-size="7.08" text-anchor="start" textLength="12.8" lengthAdjust="spacingAndGlyphs">PDP</text>
<text x="308" y="528.64" font-size="7.08" text-anchor="start" textLength="23.9" lengthAdjust="spacingAndGlyphs">95% CI</text>
<polygon points="405.7,555.7 408.8,567.3 411.9,555.7 415,567.3 418.1,560.7 421.2,551.6 424.3,546.2 427.4,545.8 430.5,542.9 433.6,548 436.7,555.5 439.8,559.1 442.9,552.9 446,543.6 449.1,532.2 452.2,547.2 455.3,560.2 458.4,554 461.5,547.2 464.6,546.7 464.6,665 461.5,666.3 458.4,664.2 455.3,660.3 452.2,679 449.1,617.2 446,620.2 442.9,623.2 439.8,649.5 436.7,634 433.6,618 430.5,597 427.4,597.6 424.3,600 421.2,601 418.1,612 415,620.2 411.9,595.7 408.8,620.4 405.7,598.3" fill="#ccccff"/>
<polyline points="405.7,572.3 408.8,595 411.9,577.7 415,595.6 418.1,592.2 421.2,572.1 424.3,548.3 427.4,552.4 430.5,550.3 433.6,570 436.7,580.5 439.8,610.2 442.9,569.5 446,563.3 449.1,556 452.2,564.8 455.3,572.1 458.4,578.8 461.5,587.1 464.6,586.5" fill="none" stroke="#1f1fff" stroke-width="1.15" stroke-linejoin="round"/>
<rect x="400" y="693.1" width="56" height="9.4" fill="#000" fill-opacity="1.0"/>
<rect x="456" y="693.1" width="1" height="9.4" fill="#000" fill-opacity="0.55"/>
<rect x="457" y="693.1" width="3" height="9.4" fill="#000" fill-opacity="0.85"/>
<rect x="461" y="693.1" width="7" height="9.4" fill="#000" fill-opacity="1.0"/>
<rect x="468" y="693.1" width="2" height="9.4" fill="#000" fill-opacity="1.0"/>
<rect x="471" y="693.1" width="6" height="9.4" fill="#000" fill-opacity="0.85"/>
<rect x="478" y="693.1" width="2" height="9.4" fill="#000" fill-opacity="0.55"/>
<rect x="480" y="693.1" width="1" height="9.4" fill="#000" fill-opacity="0.85"/>
<rect x="482" y="693.1" width="1" height="9.4" fill="#000" fill-opacity="0.7"/>
<rect x="486" y="693.1" width="1" height="9.4" fill="#000" fill-opacity="0.85"/>
<rect x="493" y="693.1" width="1" height="9.4" fill="#000" fill-opacity="1.0"/>
<rect x="499" y="693.1" width="1" height="9.4" fill="#000" fill-opacity="0.85"/>
<rect x="501" y="693.1" width="1" height="9.4" fill="#000" fill-opacity="0.85"/>
<rect x="503" y="693.1" width="1" height="9.4" fill="#000" fill-opacity="0.55"/>
<rect x="506" y="693.1" width="1" height="9.4" fill="#000" fill-opacity="0.85"/>
<rect x="508" y="693.1" width="1" height="9.4" fill="#000" fill-opacity="0.85"/>
<rect x="514" y="693.1" width="1" height="9.4" fill="#000" fill-opacity="0.85"/>
<rect x="516" y="693.1" width="1" height="9.4" fill="#000" fill-opacity="0.85"/>
<rect x="521" y="693.1" width="1" height="9.4" fill="#000" fill-opacity="0.85"/>
<rect x="524" y="693.1" width="1" height="9.4" fill="#000" fill-opacity="0.85"/>
<rect x="528" y="693.1" width="2" height="9.4" fill="#000" fill-opacity="0.7"/>
<rect x="532" y="693.1" width="1" height="9.4" fill="#000" fill-opacity="0.85"/>
<rect x="535" y="693.1" width="1" height="9.4" fill="#000" fill-opacity="0.7"/>
<rect x="539" y="693.1" width="3" height="9.4" fill="#000" fill-opacity="1.0"/>
<rect x="544" y="693.1" width="1" height="9.4" fill="#000" fill-opacity="0.85"/>
<rect x="546" y="693.1" width="2" height="9.4" fill="#000" fill-opacity="0.55"/>
<rect x="551" y="693.1" width="1" height="9.4" fill="#000" fill-opacity="0.85"/>
<rect x="554" y="693.1" width="2" height="9.4" fill="#000" fill-opacity="0.55"/>
<rect x="557" y="693.1" width="1" height="9.4" fill="#000" fill-opacity="0.85"/>
<rect x="563" y="693.1" width="1" height="9.4" fill="#000" fill-opacity="0.85"/>
<rect x="566" y="693.1" width="1" height="9.4" fill="#000" fill-opacity="0.85"/>
<rect x="571" y="693.1" width="1" height="9.4" fill="#000" fill-opacity="0.85"/>
<rect x="579" y="693.1" width="2" height="9.4" fill="#000" fill-opacity="0.7"/>
<rect x="584" y="693.1" width="1" height="9.4" fill="#000" fill-opacity="0.85"/>
<rect x="590" y="693.1" width="2" height="9.4" fill="#000" fill-opacity="0.55"/>
<rect x="594" y="693.1" width="2" height="9.4" fill="#000" fill-opacity="0.85"/>
<rect x="599" y="693.1" width="1" height="9.4" fill="#000" fill-opacity="0.85"/>
<rect x="603" y="693.1" width="1" height="9.4" fill="#000" fill-opacity="0.85"/>
<rect x="609" y="693.1" width="1" height="9.4" fill="#000" fill-opacity="0.85"/>
<rect x="611" y="693.1" width="2" height="9.4" fill="#000" fill-opacity="0.55"/>
<rect x="614" y="693.1" width="1" height="9.4" fill="#000" fill-opacity="0.85"/>
<rect x="616" y="693.1" width="2" height="9.4" fill="#000" fill-opacity="0.85"/>
<rect x="624" y="693.1" width="2" height="9.4" fill="#000" fill-opacity="0.7"/>
<rect x="630" y="693.1" width="1" height="9.4" fill="#000" fill-opacity="0.85"/>
<rect x="634" y="693.1" width="1" height="9.4" fill="#000" fill-opacity="0.55"/>
<rect x="638" y="693.1" width="1" height="9.4" fill="#000" fill-opacity="0.85"/>
<rect x="653" y="693.1" width="1" height="9.4" fill="#000" fill-opacity="0.55"/>
<rect x="669" y="693.1" width="1" height="9.4" fill="#000" fill-opacity="0.85"/>
<rect x="386.5" y="510" width="296" height="192.5" fill="none" stroke="#666" stroke-width="1.0"/>
<line x1="383.7" y1="701.41" x2="386.5" y2="701.41" stroke="#333" stroke-width="0.8"/>
<text transform="translate(381.7,703.9) scale(1.05,1)" font-size="7.1" text-anchor="end">665</text>
<line x1="383.7" y1="669.83" x2="386.5" y2="669.83" stroke="#333" stroke-width="0.8"/>
<text transform="translate(381.7,672.31) scale(1.05,1)" font-size="7.1" text-anchor="end">670</text>
<line x1="383.7" y1="638.24" x2="386.5" y2="638.24" stroke="#333" stroke-width="0.8"/>
<text transform="translate(381.7,640.73) scale(1.05,1)" font-size="7.1" text-anchor="end">675</text>
<line x1="383.7" y1="606.65" x2="386.5" y2="606.65" stroke="#333" stroke-width="0.8"/>
<text transform="translate(381.7,609.14) scale(1.05,1)" font-size="7.1" text-anchor="end">680</text>
<line x1="383.7" y1="575.07" x2="386.5" y2="575.07" stroke="#333" stroke-width="0.8"/>
<text transform="translate(381.7,577.56) scale(1.05,1)" font-size="7.1" text-anchor="end">685</text>
<line x1="383.7" y1="543.49" x2="386.5" y2="543.49" stroke="#333" stroke-width="0.8"/>
<text transform="translate(381.7,545.97) scale(1.05,1)" font-size="7.1" text-anchor="end">690</text>
<line x1="383.7" y1="511.9" x2="386.5" y2="511.9" stroke="#333" stroke-width="0.8"/>
<text transform="translate(381.7,514.39) scale(1.05,1)" font-size="7.1" text-anchor="end">695</text>
<line x1="398.27" y1="702.5" x2="398.27" y2="705.3" stroke="#333" stroke-width="0.8"/>
<text transform="translate(398.27,711.9) scale(1.05,1)" font-size="7.1" text-anchor="middle">0</text>
<line x1="440.42" y1="702.5" x2="440.42" y2="705.3" stroke="#333" stroke-width="0.8"/>
<text transform="translate(440.42,711.9) scale(1.05,1)" font-size="7.1" text-anchor="middle">2</text>
<line x1="482.57" y1="702.5" x2="482.57" y2="705.3" stroke="#333" stroke-width="0.8"/>
<text transform="translate(482.57,711.9) scale(1.05,1)" font-size="7.1" text-anchor="middle">4</text>
<line x1="524.72" y1="702.5" x2="524.72" y2="705.3" stroke="#333" stroke-width="0.8"/>
<text transform="translate(524.72,711.9) scale(1.05,1)" font-size="7.1" text-anchor="middle">6</text>
<line x1="566.87" y1="702.5" x2="566.87" y2="705.3" stroke="#333" stroke-width="0.8"/>
<text transform="translate(566.87,711.9) scale(1.05,1)" font-size="7.1" text-anchor="middle">8</text>
<line x1="609.02" y1="702.5" x2="609.02" y2="705.3" stroke="#333" stroke-width="0.8"/>
<text transform="translate(609.02,711.9) scale(1.05,1)" font-size="7.1" text-anchor="middle">10</text>
<line x1="651.17" y1="702.5" x2="651.17" y2="705.3" stroke="#333" stroke-width="0.8"/>
<text transform="translate(651.17,711.9) scale(1.05,1)" font-size="7.1" text-anchor="middle">12</text>
<text x="534.7" y="506" font-size="8.47" text-anchor="middle" textLength="91.1" lengthAdjust="spacingAndGlyphs">PDP with 95% CI - Adm</text>
<text x="534.3" y="721.8" font-size="6.95" text-anchor="middle" textLength="14.3" lengthAdjust="spacingAndGlyphs">Adm</text>
<text transform="translate(364.3,606) rotate(-90)" font-size="6.95" text-anchor="middle" textLength="36.4" lengthAdjust="spacingAndGlyphs">Slump flow</text>
<rect x="632.1" y="513.1" width="47.2" height="21" rx="1.6" fill="#fff" fill-opacity="0.85" stroke="#dadada" stroke-width="0.7"/>
<line x1="634.2" y1="518" x2="648.5" y2="518" stroke="#1f1fff" stroke-width="1.3"/>
<rect x="634.2" y="525.9" width="14.3" height="4.7" fill="#ccccff"/>
<text x="653.7" y="520.39" font-size="6.95" text-anchor="start" textLength="12.3" lengthAdjust="spacingAndGlyphs">PDP</text>
<text x="653.7" y="530.39" font-size="6.95" text-anchor="start" textLength="22.5" lengthAdjust="spacingAndGlyphs">95% CI</text>
</svg></body></html>
